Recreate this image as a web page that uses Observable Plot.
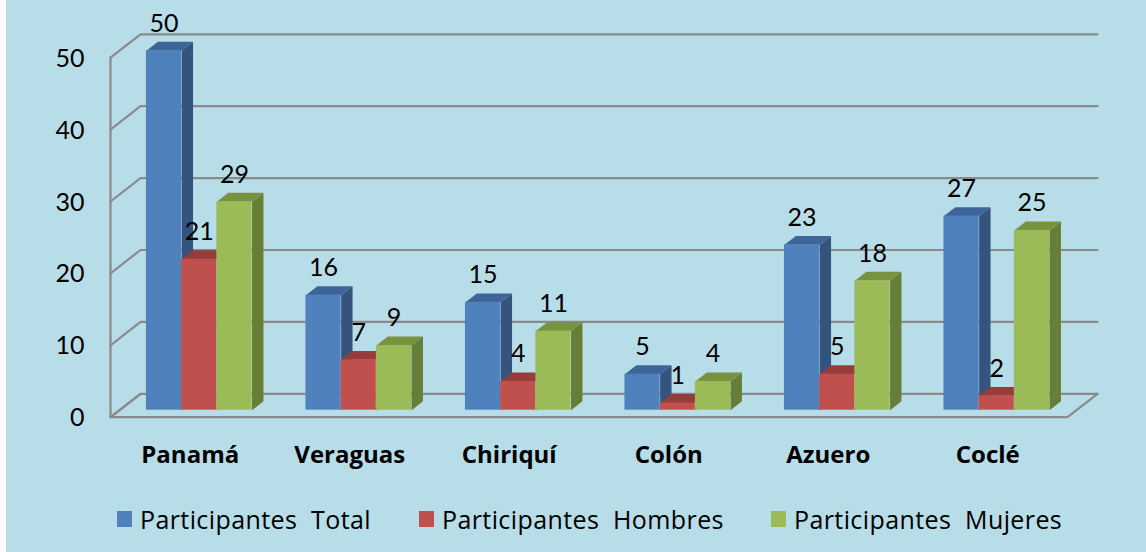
<!DOCTYPE html>
<html>
<head>
<meta charset="utf-8">
<script src="https://cdn.jsdelivr.net/npm/d3@7"></script>
<script src="https://cdn.jsdelivr.net/npm/@observablehq/plot@0.6"></script>
<style>
  html, body { margin: 0; padding: 0; background: #ffffff; }
  #wrap { position: relative; margin-left: 6px; width: 1140px; height: 552px; background: #b7dde8; overflow: hidden; font-family: Lato, "Open Sans", sans-serif; }
  #chart svg { display: block; }
  .leg { position: absolute; top: 0; display: flex; align-items: center; font-family: "Open Sans", sans-serif; font-size: 25px; letter-spacing: 0.4px; color: #000; white-space: pre; }
  .leg .sw { width: 15px; height: 16px; margin-right: 8px; }
</style>
</head>
<body>
<div id="wrap">
  <div id="chart"></div>
  <div id="legend"></div>
</div>
<script>
// ---- data ----
const categories = ["Panamá", "Veraguas", "Chiriquí", "Colón", "Azuero", "Coclé"];
const seriesNames = ["Participantes  Total", "Participantes  Hombres", "Participantes  Mujeres"];
const total   = [50, 16, 15, 5, 23, 27];
const hombres = [21, 7, 4, 1, 5, 2];
const mujeres = [29, 9, 11, 4, 18, 25];
const yTicks = [0, 10, 20, 30, 40, 50];

// ---- style / layout ----
const seriesValues = [total, hombres, mujeres];
const frontColors = ["#4f81bd", "#c0504d", "#9bbb59"];
const topColors   = ["#3e6598", "#963c3a", "#78933f"];
const sideColors  = ["#34547d", "#7f302e", "#667e35"];
const gridColor = "#8a8a8a";

const W = 1140, H = 490;
const mL = 104, mR = 79, mT = 57.2, yZero = 416.7;
const pxPerX = (W - mL - mR) / categories.length;
const pxPerY = (yZero - mT) / 50;
// oblique depth vector (in data units)
const Dx = 30 / pxPerX, Dy = 23.4 / pxPerY;
const barW = 35.2 / pxPerX;
const pad = (1 - 3 * barW) / 2;
const tFront = 0.3, kDepth = 0.38;

// bars table
const bars = [];
seriesValues.forEach((vals, s) => {
  vals.forEach((v, i) => {
    const x1 = i + pad + s * barW + tFront * Dx;
    bars.push({s, i, v, x1, x2: x1 + barW, y1: tFront * Dy, y2: v + tFront * Dy});
  });
});
const sidePts = s => bars.filter(b => b.s === s).flatMap(b => [
  {id: b.i, x: b.x2, y: b.y1}, {id: b.i, x: b.x2, y: b.y2},
  {id: b.i, x: b.x2 + kDepth * Dx, y: b.y2 + kDepth * Dy}, {id: b.i, x: b.x2 + kDepth * Dx, y: b.y1 + kDepth * Dy}
]);
const topPts = s => bars.filter(b => b.s === s).flatMap(b => [
  {id: b.i, x: b.x1, y: b.y2}, {id: b.i, x: b.x2, y: b.y2},
  {id: b.i, x: b.x2 + kDepth * Dx, y: b.y2 + kDepth * Dy}, {id: b.i, x: b.x1 + kDepth * Dx, y: b.y2 + kDepth * Dy}
]);

// walls
const n = categories.length;
const gridPts = yTicks.flatMap(v => [
  {id: v, x: 0, y: v}, {id: v, x: Dx, y: v + Dy}, {id: v, x: n + Dx, y: v + Dy}
]);
const floorPts = [
  {x: Dx, y: Dy}, {x: 0, y: 0}, {x: n, y: 0}, {x: n + Dx, y: Dy}
];
const axisPts = [{x: 0, y: 0}, {x: 0, y: 50}];

const marks = [
  Plot.line(gridPts, {x: "x", y: "y", z: "id", stroke: gridColor, strokeWidth: 2.2}),
  Plot.line(floorPts, {x: "x", y: "y", stroke: gridColor, strokeWidth: 2.2}),
  Plot.line(axisPts, {x: "x", y: "y", stroke: gridColor, strokeWidth: 2.2}),
];
[0, 1, 2].forEach(s => marks.push(Plot.line(sidePts(s), {x: "x", y: "y", z: "id", fill: sideColors[s], stroke: "none"})));
[0, 1, 2].forEach(s => marks.push(Plot.line(topPts(s), {x: "x", y: "y", z: "id", fill: topColors[s], stroke: "none"})));
[0, 1, 2].forEach(s => marks.push(Plot.rect(bars.filter(b => b.s === s), {x1: "x1", x2: "x2", y1: "y1", y2: "y2", fill: frontColors[s], stroke: "none"})));
marks.push(
  Plot.text(bars, {x: b => (b.x1 + b.x2) / 2, y: "y2", text: b => String(b.v), dy: -19, lineAnchor: "bottom", fontSize: 25, fill: "#000"}),
  Plot.text(yTicks, {x: 0, y: d => d, text: d => String(d), textAnchor: "end", dx: -26, dy: 1, lineAnchor: "middle", fontSize: 25, fill: "#000"}),
  Plot.text(categories, {x: (d, i) => i + 0.5, y: 0, text: d => d, dy: 46, lineAnchor: "bottom", fontSize: 24, fontWeight: "bold", fontFamily: "'Open Sans', sans-serif", fill: "#000"})
);

const chart = Plot.plot({
  width: W, height: H,
  marginLeft: mL, marginRight: mR, marginTop: mT, marginBottom: H - yZero,
  style: {background: "transparent", fontFamily: "Lato, 'Open Sans', sans-serif", overflow: "visible"},
  x: {type: "linear", domain: [0, n], axis: null},
  y: {type: "linear", domain: [0, 50], axis: null},
  marks
});
document.getElementById("chart").appendChild(chart);

// legend (HTML, below the svg)
const legend = document.getElementById("legend");
const legendLeft = [111, 413, 765];
seriesNames.forEach((name, s) => {
  const it = document.createElement("div");
  it.className = "leg";
  it.style.left = legendLeft[s] + "px";
  it.style.top = "505px";
  it.style.height = "28px";
  const sw = document.createElement("div");
  sw.className = "sw";
  sw.style.background = frontColors[s];
  const tx = document.createElement("span");
  tx.textContent = name;
  it.appendChild(sw); it.appendChild(tx);
  legend.appendChild(it);
});
</script>
</body>
</html>
